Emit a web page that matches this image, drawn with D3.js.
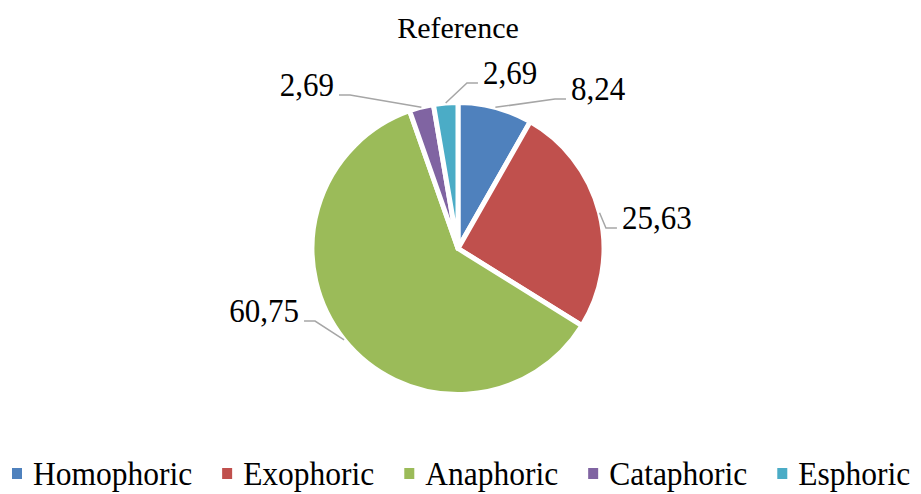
<!DOCTYPE html>
<html>
<head>
<meta charset="utf-8">
<script src="https://cdn.jsdelivr.net/npm/d3@7"></script>
<style>
  html, body { margin: 0; padding: 0; background: #fff; }
  svg { display: block; }
</style>
</head>
<body>
<svg id="chart" width="921" height="494"></svg>
<script>
// ---- data ----
const title = "Reference";
const categories = ["Homophoric", "Exophoric", "Anaphoric", "Cataphoric", "Esphoric"];
const values = [8.24, 25.63, 60.75, 2.69, 2.69];
const valueLabels = ["8,24", "25,63", "60,75", "2,69", "2,69"];
const colors = ["#4F81BD", "#C0504D", "#9BBB59", "#8064A2", "#4BACC6"];

// ---- label layout (polar elbow of each leader line, relative to pie) ----
const labelElbowAngleDeg = [33.0, 82.1, 243.1, 324.9, 3.1];
const labelElbowRadiusFactor = [1.22, 1.023, 1.098, 1.286, 1.135];

// ---- layout ----
const FONT = "Liberation Serif";
const STRETCH = 1.08; // slight vertical stretch of the original text
const cx = 458, cy = 248.5, R = 146;
const svg = d3.select("#chart");

function stretchedText(parent, x, y, size, anchor, str) {
  return parent.append("text")
    .attr("transform", `translate(${x},${y}) scale(1,${STRETCH})`)
    .attr("text-anchor", anchor)
    .attr("font-family", FONT)
    .attr("font-size", size)
    .text(str);
}

svg.append("text")
  .attr("x", cx).attr("y", 38)
  .attr("text-anchor", "middle")
  .attr("font-family", FONT)
  .attr("font-size", 30)
  .text(title);

const data = categories.map((c, i) => ({ cat: c, value: values[i], label: valueLabels[i], color: colors[i], i }));
const pie = d3.pie().sort(null).value(d => d.value).startAngle(0).endAngle(2 * Math.PI);
const arcs = pie(data);
const arc = d3.arc().innerRadius(0).outerRadius(R);

const g = svg.append("g").attr("transform", `translate(${cx},${cy})`);
g.selectAll("path.slice")
  .data(arcs)
  .enter().append("path")
  .attr("class", "slice")
  .attr("d", arc)
  .attr("fill", d => d.data.color)
  .attr("stroke", "#fff")
  .attr("stroke-width", 5)
  .attr("stroke-linejoin", "round");

// leader lines + labels
const rim = d3.arc().innerRadius(R).outerRadius(R);
const hLen = 11, gap = 5;
arcs.forEach((a, k) => {
  const start = rim.centroid(a);
  const ang = labelElbowAngleDeg[k] * Math.PI / 180;
  const er = R * labelElbowRadiusFactor[k];
  const ex = er * Math.sin(ang), ey = -er * Math.cos(ang);
  const right = Math.sin(ang) >= 0;
  const hx = ex + (right ? hLen : -hLen);
  g.append("polyline")
    .attr("points", [[start[0], start[1]], [ex, ey], [hx, ey]].map(p => p.join(",")).join(" "))
    .attr("fill", "none")
    .attr("stroke", "#A6A6A6")
    .attr("stroke-width", 1.5);
  stretchedText(g, hx + (right ? gap : -gap), ey + 1, 31, right ? "start" : "end", a.data.label);
});

// legend
const legend = svg.append("g");
let lx = 12;
const baseY = 485;
data.forEach(d => {
  legend.append("rect")
    .attr("x", lx).attr("y", baseY - 17)
    .attr("width", 10).attr("height", 11)
    .attr("fill", d.color);
  const t = stretchedText(legend, lx + 21, baseY, 31.5, "start", d.cat);
  lx += 21 + t.node().getComputedTextLength() + 30;
});
</script>
</body>
</html>
